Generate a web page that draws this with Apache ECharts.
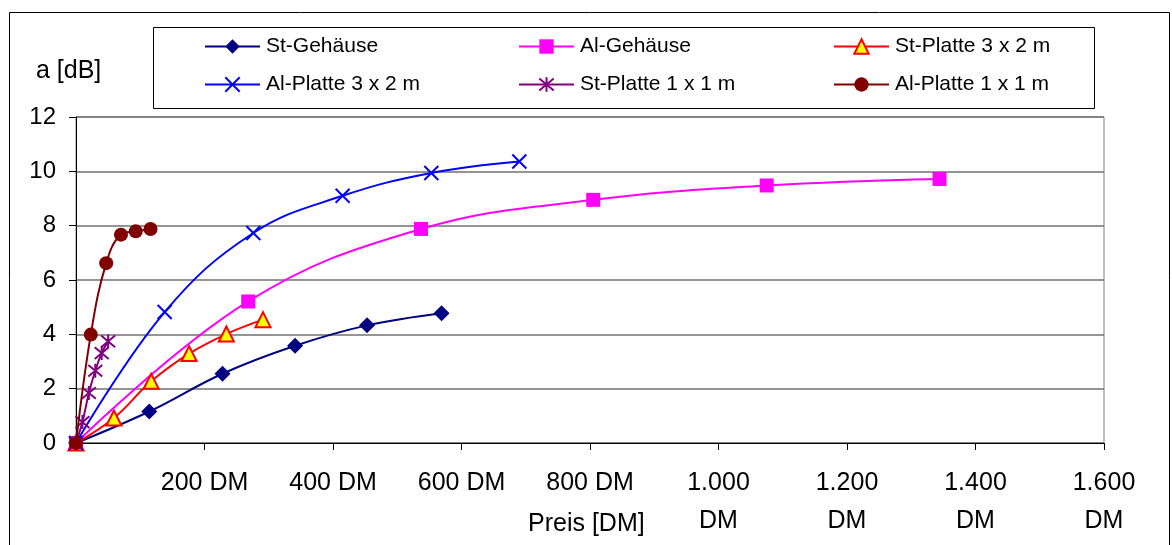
<!DOCTYPE html>
<html>
<head>
<meta charset="utf-8">
<script src="https://cdn.jsdelivr.net/npm/echarts@6/dist/echarts.min.js"></script>
<style>
  html, body { margin: 0; padding: 0; background: #fff; }
  #chart { width: 1172px; height: 545px; }
</style>
</head>
<body>
<div id="chart"></div>
<script>
// Dämpfung a [dB] über Preis [DM] für verschiedene Abschirmungen
const seriesNames = [
  'St-Gehäuse', 'Al-Gehäuse', 'St-Platte 3 x 2 m',
  'Al-Platte 3 x 2 m', 'St-Platte 1 x 1 m', 'Al-Platte 1 x 1 m'
];

const priceStGehaeuse = [0, 114, 228, 341, 453, 569];
const dbStGehaeuse    = [0, 1.16, 2.55, 3.58, 4.33, 4.78];

const priceAlGehaeuse = [0, 268, 537, 805, 1075, 1344];
const dbAlGehaeuse    = [0, 5.21, 7.88, 8.95, 9.48, 9.72];

const priceStPlatte32 = [0, 59, 117, 176, 234, 291];
const dbStPlatte32    = [0, 0.92, 2.27, 3.29, 4.01, 4.54];

const priceAlPlatte32 = [0, 138, 276, 415, 553, 690];
const dbAlPlatte32    = [0, 4.82, 7.73, 9.10, 9.94, 10.36];

const priceStPlatte11 = [0, 10, 20, 30, 40, 50];
const dbStPlatte11    = [0, 0.77, 1.84, 2.66, 3.31, 3.74];

const priceAlPlatte11 = [0, 23, 47, 70, 93, 116];
const dbAlPlatte11    = [0, 3.99, 6.62, 7.67, 7.79, 7.88];

const xTicks = [0, 200, 400, 600, 800, 1000, 1200, 1400, 1600];
const yTicks = [0, 2, 4, 6, 8, 10, 12];

const FONT = "'Liberation Sans', Arial, sans-serif";

function pairs(xs, ys) { return xs.map((x, i) => [x, ys[i]]); }

// Preisformat mit Tausenderpunkt, ab 1.000 zweizeilig
function fmtPrice(v) {
  if (v === 0) return '';
  if (v >= 1000) {
    const s = String(v);
    return s.slice(0, s.length - 3) + '.' + s.slice(s.length - 3) + '\nDM';
  }
  return v + ' DM';
}

const X_SYMBOL = 'path://M0 0L10 10M10 0L0 10';
const STAR_SYMBOL = 'path://M0 0L10 10M10 0L0 10M5 -1L5 11';

const styles = [
  { color: '#000080', symbol: 'diamond', size: 16 },
  { color: '#FF00FF', symbol: 'rect', size: 14 },
  { color: '#FF0000', symbol: 'triangle', size: 15, fill: '#FFFF00', border: '#FF0000', bw: 2 },
  { color: '#0000FF', symbol: X_SYMBOL, size: 14, fill: 'none', border: '#0000FF', bw: 2 },
  { color: '#800080', symbol: STAR_SYMBOL, size: 14, fill: 'none', border: '#800080', bw: 2 },
  { color: '#800000', symbol: 'circle', size: 14 }
];

const dataSets = [
  pairs(priceStGehaeuse, dbStGehaeuse),
  pairs(priceAlGehaeuse, dbAlGehaeuse),
  pairs(priceStPlatte32, dbStPlatte32),
  pairs(priceAlPlatte32, dbAlPlatte32),
  pairs(priceStPlatte11, dbStPlatte11),
  pairs(priceAlPlatte11, dbAlPlatte11)
];

const series = dataSets.map((d, i) => {
  const s = styles[i];
  return {
    name: seriesNames[i],
    type: 'line',
    data: d,
    smooth: 0.4,
    symbol: s.symbol,
    symbolSize: s.size,
    showAllSymbol: true,
    z: 2 + i,
    lineStyle: { color: s.color, width: 2 },
    itemStyle: {
      color: s.fill || s.color,
      borderColor: s.border || s.color,
      borderWidth: s.bw || 0,
      opacity: 1
    },
    emphasis: { disabled: true },
    animation: false
  };
});

// Legende: drei Spalten, zwei Zeilen
const legendCols = [204, 518, 833];
const legendRows = [36, 74];
const legends = seriesNames.map((n, i) => ({
  data: [n],
  left: legendCols[i % 3],
  top: legendRows[Math.floor(i / 3)],
  padding: 0,
  itemWidth: 55,
  itemHeight: 18,
  itemGap: 0,
  selectedMode: false,
  textStyle: { fontFamily: FONT, fontSize: 21, color: '#000', padding: [0, 0, 0, 1] }
}));

const chart = echarts.init(document.getElementById('chart'), null, { renderer: 'canvas' });
chart.setOption({
  backgroundColor: '#fff',
  animation: false,
  grid: {
    left: 76, right: 68, top: 117, bottom: 102,
    show: true, borderColor: '#808080', borderWidth: 1, backgroundColor: 'transparent'
  },
  legend: legends,
  xAxis: {
    type: 'value',
    min: xTicks[0],
    max: xTicks[xTicks.length - 1],
    interval: 200,
    axisLine: { show: true, onZero: false, lineStyle: { color: '#000', width: 1 } },
    axisTick: { show: true, length: 7, lineStyle: { color: '#000' } },
    splitLine: { show: false },
    axisLabel: {
      formatter: fmtPrice,
      fontFamily: FONT, fontSize: 25, color: '#000',
      margin: 21, lineHeight: 38
    }
  },
  yAxis: {
    type: 'value',
    min: yTicks[0],
    max: yTicks[yTicks.length - 1],
    interval: 2,
    axisLine: { show: true, lineStyle: { color: '#000', width: 1 } },
    axisTick: { show: true, length: 7, lineStyle: { color: '#000' } },
    splitLine: { show: true, lineStyle: { color: '#707070', width: 1.5 } },
    axisLabel: { fontFamily: FONT, fontSize: 24, color: '#000', margin: 20 }
  },
  graphic: [
    { type: 'rect', shape: { x: 9.5, y: 12.5, width: 1160, height: 560 },
      style: { fill: 'none', stroke: '#000', lineWidth: 1 }, z: -10, silent: true },
    { type: 'rect', shape: { x: 153.5, y: 27.5, width: 941, height: 81 },
      style: { fill: '#fff', stroke: '#000', lineWidth: 1 }, z: -5, silent: true },
    { type: 'text', left: 36, top: 59,
      style: { text: 'a [dB]', font: '25px ' + FONT, fill: '#000' }, silent: true },
    { type: 'text', left: 528, top: 512,
      style: { text: 'Preis [DM]', font: '25px ' + FONT, fill: '#000' }, silent: true }
  ],
  series: series
});
</script>
</body>
</html>
